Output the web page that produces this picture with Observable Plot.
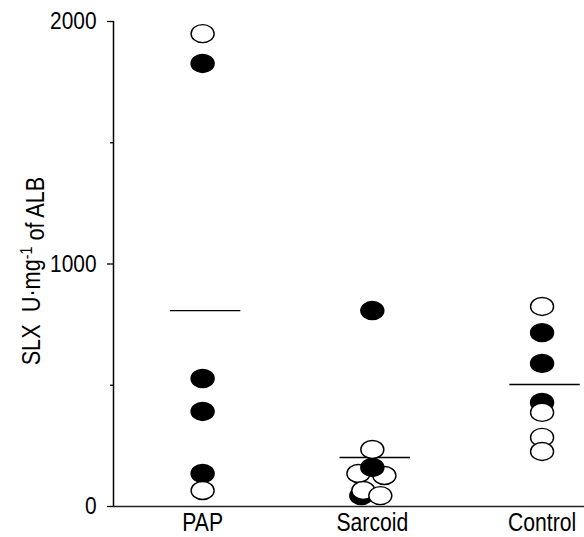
<!DOCTYPE html>
<html>
<head>
<meta charset="utf-8">
<script src="https://cdn.jsdelivr.net/npm/d3@7"></script>
<script src="https://cdn.jsdelivr.net/npm/@observablehq/plot@0.6"></script>
<style>
  html, body { margin: 0; padding: 0; background: white; }
</style>
</head>
<body>
<div id="chart"></div>
<script>
// ---- data ----
const categories = ["PAP", "Sarcoid", "Control"];
const meanValues = [808, 202, 503];
const yTickLabels = [0, 1000, 2000];
const yMinorTicks = [500, 1500];

// individual points (drawing order), group index 1..3
const pointGroup  = [1, 1, 1, 1, 1, 1,
                     2, 2, 2, 2, 2, 2, 2, 2,
                     3, 3, 3, 3, 3, 3, 3];
const pointValue  = [1950, 1827, 528, 392, 136, 66,
                     808, 45, 136, 128, 66, 45, 161, 235,
                     825, 717, 590, 429, 388, 285, 227];
const pointFilled = [false, true, true, true, true, false,
                     true, true, false, false, false, false, true, false,
                     false, true, true, true, false, false, false];
const pointJitter = [0, 0, 0, 0, 0, 0,
                     0, -0.065, -0.082, 0.071, -0.053, 0.047, 0, 0,
                     0, 0, 0, 0, 0, 0, 0];

const points = pointValue.map((v, i) => ({
  x: pointGroup[i] + pointJitter[i],
  y: v,
  fill: pointFilled[i] ? "black" : "white"
}));
const means = meanValues.map((m, i) => ({x1: i + 1 - 0.19, x2: i + 1 + 0.225, y: m}));

const FONT = "'Liberation Sans', Arial, Helvetica, sans-serif";

// ellipse symbol (wider than tall)
const ellipse = {
  draw(ctx, size) {
    const r = Math.sqrt(size / Math.PI);
    const rx = r * 1.28, ry = r, k = 0.5523;
    ctx.moveTo(rx, 0);
    ctx.bezierCurveTo(rx, ry * k, rx * k, ry, 0, ry);
    ctx.bezierCurveTo(-rx * k, ry, -rx, ry * k, -rx, 0);
    ctx.bezierCurveTo(-rx, -ry * k, -rx * k, -ry, 0, -ry);
    ctx.bezierCurveTo(rx * k, -ry, rx, -ry * k, rx, 0);
    ctx.closePath();
  }
};

const xDomain = [0.475, 3.25];

const chart = Plot.plot({
  width: 584,
  height: 537,
  marginLeft: 113,
  marginRight: 0,
  marginTop: 21,
  marginBottom: 31,
  x: {domain: xDomain, axis: null},
  y: {domain: [0, 2000], axis: null},
  color: {type: "identity"},
  style: {fontFamily: FONT, background: "white", color: "black"},
  marks: [
    Plot.axisY({ticks: yTickLabels, tickSize: 6, tickPadding: 11, tickFormat: d => String(d), fontSize: 24, label: null, strokeWidth: 1.3}),
    Plot.axisY({ticks: yMinorTicks, tickSize: 3, tickFormat: () => "", label: null, strokeWidth: 1.3}),
    Plot.ruleX([xDomain[0]], {y1: 0, y2: 2000, stroke: "black", strokeWidth: 1.5}),
    Plot.ruleY([0], {stroke: "#222", strokeWidth: 1.5}),
    Plot.axisX({ticks: [1, 2, 3], tickFormat: d => categories[d - 1], tickSize: 0, tickPadding: 6, fontSize: 25.5, label: null}),
    Plot.ruleY(means, {x1: "x1", x2: "x2", y: "y", stroke: "black", strokeWidth: 1.3}),
    Plot.dot(points, {x: "x", y: "y", symbol: ellipse, r: 9, fill: "fill", stroke: "black", strokeWidth: 1.4})
  ]
});

// condense text horizontally (reference uses a condensed sans face)
d3.select(chart).selectAll("text").each(function () {
  const anchorEl = this.closest("[text-anchor]");
  const isYTick = anchorEl && anchorEl.getAttribute("text-anchor") === "end";
  const s = isYTick ? 0.87 : 0.83;
  const t = this.getAttribute("transform");
  if (t) {
    this.setAttribute("transform", t + ` scale(${s},1)`);
  } else {
    const x = +(this.getAttribute("x") || 0), y = +(this.getAttribute("y") || 0);
    this.setAttribute("transform", `translate(${x},${y}) scale(${s},1) translate(${-x},${-y})`);
  }
});

const svg = d3.select(chart);
const label = svg.append("text")
  .attr("transform", "translate(40,271) rotate(-90) scale(0.835,1)")
  .attr("text-anchor", "middle")
  .attr("font-family", FONT)
  .attr("font-size", 26)
  .attr("fill", "black")
  .style("white-space", "pre");
label.append("tspan").text("SLX  U·mg");
label.append("tspan").attr("dy", "-0.45em").attr("font-size", 17).text("-1");
label.append("tspan").attr("dy", "0.45em").text(" of ALB");

document.getElementById("chart").appendChild(chart);
</script>
</body>
</html>
